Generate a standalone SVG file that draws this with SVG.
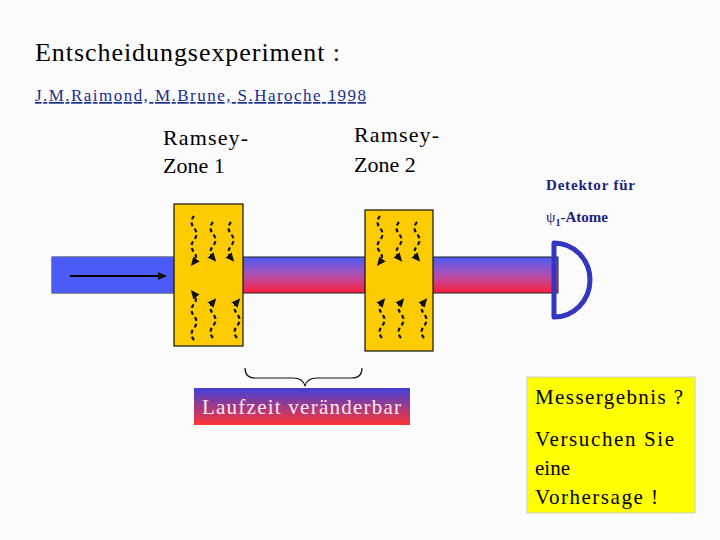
<svg xmlns="http://www.w3.org/2000/svg" width="720" height="540" viewBox="0 0 720 540">
<defs>
<linearGradient id="g" x1="0" y1="0" x2="0" y2="1"><stop offset="0" stop-color="#4a5cf5"/><stop offset="0.5" stop-color="#b050b0"/><stop offset="1" stop-color="#ff1e3c"/></linearGradient>
<linearGradient id="g2" x1="0" y1="0" x2="0" y2="1"><stop offset="0" stop-color="#4040d8"/><stop offset="1" stop-color="#ff3535"/></linearGradient>
<marker id="ah" markerWidth="9" markerHeight="8" refX="4" refY="4" orient="auto" markerUnits="userSpaceOnUse"><path d="M0,0L9,4L0,8z" fill="#111"/></marker>
</defs>
<style>
text{font-family:'Liberation Serif','Times New Roman',serif}
.w{fill:none;stroke:#111;stroke-width:2.2;stroke-dasharray:4,3}
</style>
<rect width="720" height="540" fill="#fbfbfb"/>
<text x="35" y="61" font-size="26" fill="#000" textLength="305" lengthAdjust="spacing">Entscheidungsexperiment :</text>
<text x="35" y="101" font-size="17" fill="#1a2f8f" text-decoration="underline" textLength="331" lengthAdjust="spacing">J.M.Raimond, M.Brune, S.Haroche 1998</text>
<g id="beam">
<rect x="52" y="257" width="506" height="36" fill="url(#g)" stroke="#222" stroke-width="1"/>
<rect x="52" y="257" width="124" height="36" fill="#4a5cf5"/>
<line x1="70" y1="276" x2="162" y2="276" stroke="#000" stroke-width="2" marker-end="url(#ah)"/>
</g>
<g id="zone1">
<rect x="174" y="204" width="69" height="142" fill="#fccc00" stroke="#111" stroke-width="1.2"/>
<g class="w">
<path d="M194,216 q-5,6 0,12 q5,6 0,12 q-5,6 0,12 q4,5 0,10" marker-end="url(#ah)"/>
<path d="M213,222 q-5,6 0,12 q5,6 0,12 q-5,6 0,12" marker-end="url(#ah)"/>
<path d="M231,222 q-5,6 0,12 q5,6 0,12 q-5,6 0,12" marker-end="url(#ah)"/>
<path d="M194,340 q-5,-6 0,-12 q5,-6 0,-12 q-5,-6 0,-12 q4,-5 0,-10" marker-end="url(#ah)"/>
<path d="M213,338 q-5,-6 0,-12 q5,-6 0,-12 q-5,-6 0,-12" marker-end="url(#ah)"/>
<path d="M237,338 q-5,-6 0,-12 q5,-6 0,-12 q-5,-6 0,-12" marker-end="url(#ah)"/>
</g>
</g>
<g id="zone2">
<rect x="365" y="210" width="68" height="141" fill="#fccc00" stroke="#111" stroke-width="1.2"/>
<g class="w">
<path d="M380,216 q-5,6 0,12 q5,6 0,12 q-5,6 0,12 q4,5 0,10" marker-end="url(#ah)"/>
<path d="M399,222 q-5,6 0,12 q5,6 0,12 q-5,6 0,12" marker-end="url(#ah)"/>
<path d="M417,222 q-5,6 0,12 q5,6 0,12 q-5,6 0,12" marker-end="url(#ah)"/>
<path d="M382,338 q-5,-6 0,-12 q5,-6 0,-12 q-5,-6 0,-12" marker-end="url(#ah)"/>
<path d="M401,338 q-5,-6 0,-12 q5,-6 0,-12 q-5,-6 0,-12" marker-end="url(#ah)"/>
<path d="M424,338 q-5,-6 0,-12 q5,-6 0,-12 q-5,-6 0,-12" marker-end="url(#ah)"/>
</g>
</g>
<g id="labels" font-size="22" fill="#000">
<text x="163" y="145" textLength="85" lengthAdjust="spacing">Ramsey-</text>
<text x="163" y="173">Zone 1</text>
<text x="354" y="142" textLength="85" lengthAdjust="spacing">Ramsey-</text>
<text x="354" y="172">Zone 2</text>
</g>
<g id="detector">
<path d="M554,243 L554,317 A36,37 0 0 0 554,243 Z" fill="none" stroke="#3535c0" stroke-width="5" stroke-linejoin="round"/>
<text x="546" y="190" font-size="15" font-weight="bold" fill="#1a237e" textLength="89" lengthAdjust="spacing">Detektor für</text>
<text x="546" y="222" font-size="15" font-weight="bold" fill="#1a237e"><tspan font-weight="normal">ψ</tspan><tspan font-size="10" dy="4">1</tspan><tspan dy="-4">-Atome</tspan></text>
</g>
<g id="connectors">
<path d="M245,368 q0,10 10,10 L293,378 q10,0 12,8 q2,-8 12,-8 L352,378 q10,0 10,-10" fill="none" stroke="#111" stroke-width="1.2"/>
</g>
<g id="laufzeit">
<rect x="194" y="388" width="216" height="37" fill="url(#g2)"/>
<text x="202" y="414" font-size="21" fill="#ffe8f0" textLength="199" lengthAdjust="spacing">Laufzeit veränderbar</text>
</g>
<g id="result" font-size="21" fill="#000">
<rect x="527" y="377" width="168" height="136" fill="#ffff00" stroke="#ccc" stroke-width="1"/>
<text x="535" y="404" textLength="148" lengthAdjust="spacing">Messergebnis ?</text>
<text x="535" y="446" textLength="139" lengthAdjust="spacing">Versuchen Sie</text>
<text x="535" y="475">eine</text>
<text x="535" y="504" textLength="123" lengthAdjust="spacing">Vorhersage !</text>
</g>
</svg>
